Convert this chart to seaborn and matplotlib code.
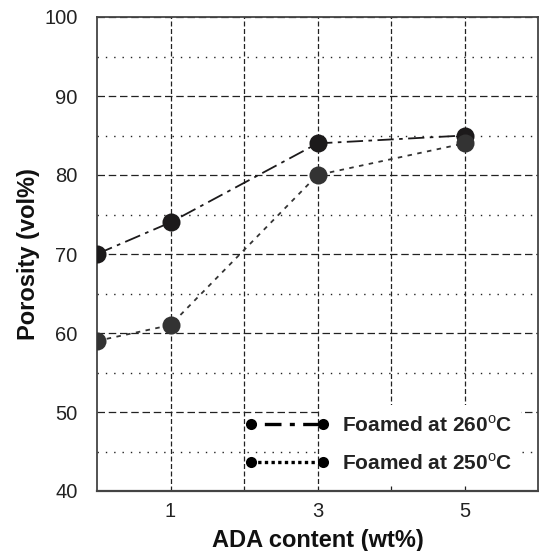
import matplotlib
matplotlib.use("Agg")
import matplotlib.pyplot as plt
from matplotlib.lines import Line2D
from matplotlib.patches import Rectangle
from matplotlib.ticker import MultipleLocator, FixedLocator
import seaborn as sns
import pandas as pd

# ADA content (wt%) and porosity (vol%) for the two foaming temperatures
ada_content = [0, 1, 3, 5]
porosity_260 = [70, 74, 84, 85]
porosity_250 = [59, 61, 80, 84]
series_labels = [r"Foamed at 260$^{\mathrm{o}}$C", r"Foamed at 250$^{\mathrm{o}}$C"]
x_tick_values = [1, 3, 5]
y_tick_values = [40, 50, 60, 70, 80, 90, 100]

sns.set_theme(style="white")
plt.rcParams["font.family"] = ["Liberation Sans", "DejaVu Sans"]
plt.rcParams["mathtext.fontset"] = "custom"
plt.rcParams["mathtext.rm"] = "Liberation Sans"
plt.rcParams["mathtext.bf"] = "Liberation Sans:bold"

df = pd.DataFrame({
    "ada": ada_content * 2,
    "porosity": porosity_260 + porosity_250,
    "series": [series_labels[0]] * len(ada_content) + [series_labels[1]] * len(ada_content),
})

fig = plt.figure(figsize=(5.39, 5.51), dpi=100)
ax = fig.add_axes([97 / 539, 1 - 491 / 551, 441 / 539, 474 / 551])

style_260 = dict(color="#1c1a1b", linestyle=(0, (9, 3, 2, 3)), linewidth=1.3)
style_250 = dict(color="#333333", linestyle=(0, (2.5, 3)), linewidth=1.3)

sns.lineplot(data=df[df["series"] == series_labels[0]], x="ada", y="porosity",
             ax=ax, marker="o", markersize=13, markeredgewidth=0,
             legend=False, zorder=4, **style_260)
sns.lineplot(data=df[df["series"] == series_labels[1]], x="ada", y="porosity",
             ax=ax, marker="o", markersize=13, markeredgewidth=0,
             legend=False, zorder=5, **style_250)

ax.set_xlim(0, 6)
ax.set_ylim(40, 100)
ax.xaxis.set_major_locator(FixedLocator(x_tick_values))
ax.xaxis.set_minor_locator(FixedLocator([2, 4]))
ax.set_xticklabels([str(v) for v in x_tick_values])
ax.yaxis.set_major_locator(FixedLocator(y_tick_values))
ax.yaxis.set_minor_locator(MultipleLocator(5))

# grid: dashed at whole units, dotted at the 5 % steps
ax.grid(True, axis="x", which="both", color="#222222", linestyle=(0, (4, 2)), linewidth=0.9)
ax.grid(True, axis="y", which="major", color="#222222", linestyle=(0, (6, 3)), linewidth=0.9)
ax.grid(True, axis="y", which="minor", color="#222222", linestyle=(0, (1, 5)), linewidth=1.0)
ax.set_axisbelow(True)

for side in ["left", "right", "top", "bottom"]:
    ax.spines[side].set_color("#444444")
    ax.spines[side].set_linewidth(1.3)
ax.spines["bottom"].set_linestyle((0, (3, 1)))
ax.spines["bottom"].set_linewidth(1.6)

ax.tick_params(axis="x", which="both", length=0, labelsize=14.5, labelcolor="#222222", pad=8)
ax.tick_params(axis="y", which="both", direction="in", length=3, width=1,
               color="#444444", labelsize=14.5, labelcolor="#222222", pad=14)

ax.set_xlabel("ADA content (wt%)", fontsize=17, fontweight="bold", labelpad=6, color="#111111")
ax.set_ylabel("Porosity (vol%)", fontsize=17, fontweight="bold", labelpad=3, color="#111111")

# white panel behind the legend labels
ax.add_patch(Rectangle((0.510, 0.013), 0.451, 0.168, transform=ax.transAxes,
                       facecolor="white", edgecolor="none", zorder=2))

handles = [
    Line2D([], [], marker="o", markersize=8, markeredgewidth=0,
           color="black", linestyle=(0, (1.5, 2.5, 5, 2.5)), linewidth=2.4),
    Line2D([], [], marker="o", markersize=8, markeredgewidth=0,
           color="black", linestyle=(0, (1, 1)), linewidth=2.4),
]
leg = ax.legend(handles, series_labels, loc="lower left", numpoints=2,
                bbox_to_anchor=(0.335, 0.037), frameon=False,
                prop={"weight": "bold", "size": 15}, handlelength=4.06,
                handletextpad=0.6, labelspacing=0.83, borderpad=0,
                borderaxespad=0)
leg.set_zorder(6)
for t in leg.get_texts():
    t.set_color("#222222")

fig.savefig("out.png", dpi=100)
